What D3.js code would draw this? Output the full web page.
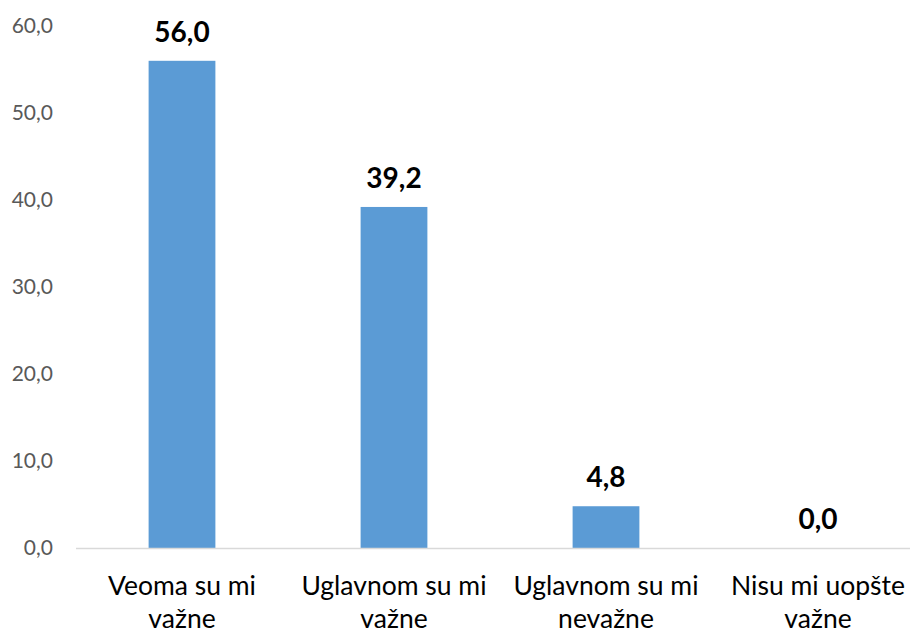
<!DOCTYPE html>
<html>
<head>
<meta charset="utf-8">
<script src="https://cdn.jsdelivr.net/npm/d3@7"></script>
<style>
  body { margin: 0; background: #fff; }
  svg { display: block; font-family: Lato, "Open Sans", sans-serif; }
</style>
</head>
<body>
<div id="vis"></div>
<script>
var categories = ["Veoma su mi važne", "Uglavnom su mi važne", "Uglavnom su mi nevažne", "Nisu mi uopšte važne"];
var values = [56.0, 39.2, 4.8, 0.0];
var yTicks = [0, 10, 20, 30, 40, 50, 60];

var width = 910, height = 632;
var svg = d3.select("#vis").append("svg").attr("width", width).attr("height", height);

var x = d3.scaleBand().domain(categories).range([76, 924])
  .paddingInner(0.685).paddingOuter(0.3425);
var y = d3.scaleLinear().domain([0, 60]).range([548, 26]);

function fmt(v){ return v.toFixed(1).replace(".", ","); }

// y tick labels (no axis line, no gridlines)
svg.selectAll(".ytick").data(yTicks).enter().append("text")
  .attr("class", "ytick")
  .attr("x", 53)
  .attr("y", function(d){ return y(d); })
  .attr("dy", "0.35em")
  .attr("text-anchor", "end")
  .attr("fill", "#595959")
  .style("font-size", "21px")
  .text(fmt);

// bars
svg.selectAll(".bar").data(values).enter().append("rect")
  .attr("class", "bar")
  .attr("x", function(d, i){ return x(categories[i]); })
  .attr("width", x.bandwidth())
  .attr("y", function(d){ return y(d); })
  .attr("height", function(d){ return y(0) - y(d); })
  .attr("fill", "#5b9bd5");

// baseline
svg.append("line")
  .attr("x1", 76).attr("x2", 924)
  .attr("y1", y(0) + 0.5).attr("y2", y(0) + 0.5)
  .attr("stroke", "#d9d9d9").attr("stroke-width", 1.5);

// value labels
svg.selectAll(".val").data(values).enter().append("text")
  .attr("class", "val")
  .attr("x", function(d, i){ return x(categories[i]) + x.bandwidth() / 2; })
  .attr("y", function(d){ return y(d) - 19; })
  .attr("text-anchor", "middle")
  .attr("fill", "#000")
  .style("font-size", "28px")
  .style("font-weight", "bold")
  .text(fmt);

// category labels, wrapped before the last word
var cat = svg.selectAll(".cat").data(categories).enter().append("text")
  .attr("class", "cat")
  .attr("text-anchor", "middle")
  .attr("fill", "#000")
  .style("font-size", "26.5px");

cat.each(function(d){
  var words = d.split(" ");
  var lines = [words.slice(0, -1).join(" "), words[words.length - 1]];
  var cx = x(d) + x.bandwidth() / 2;
  d3.select(this).selectAll("tspan").data(lines).enter().append("tspan")
    .attr("x", cx)
    .attr("y", function(l, i){ return 595 + i * 33; })
    .text(function(l){ return l; });
});
</script>
</body>
</html>
